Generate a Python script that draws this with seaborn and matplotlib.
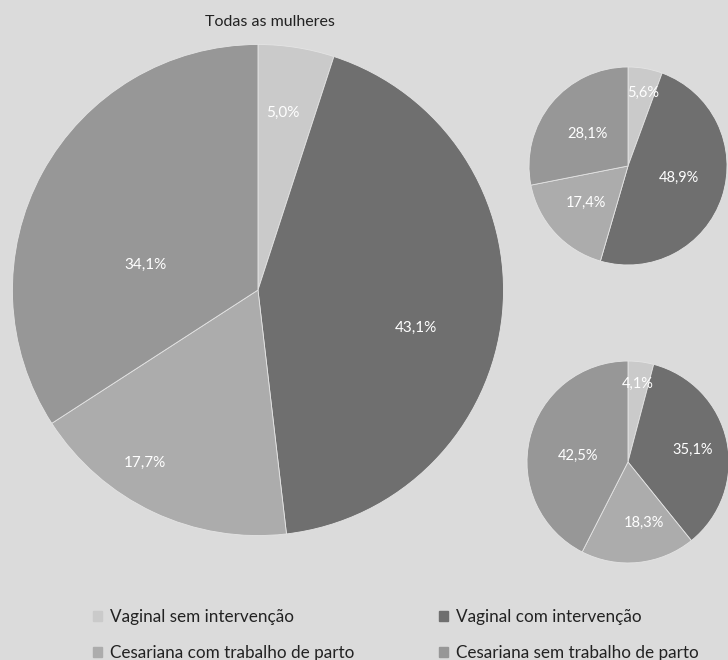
import numpy as np
import matplotlib
matplotlib.use('Agg')
import matplotlib.pyplot as plt
import matplotlib.patches as mpatches
import seaborn as sns

sns.set_theme(style='white')
plt.rcParams['font.family'] = ['Lato', 'DejaVu Sans']

categories = ['Vaginal sem intervenção', 'Vaginal com intervenção',
              'Cesariana com trabalho de parto', 'Cesariana sem trabalho de parto']
todas = [5.0, 43.1, 17.7, 34.1]
grupo_a = [5.6, 48.9, 17.4, 28.1]
grupo_b = [4.1, 35.1, 18.3, 42.5]
title_main = 'Todas as mulheres'

colors = ['#cacaca', '#6f6f6f', '#acacac', '#979797']
bg = '#dbdbdb'

# label placement (radius fraction, angle offset in degrees) for each pie
lab_main = [(0.73, 1), (0.66, -8), (0.84, -8), (0.47, 16)]
lab_a = [(0.75, -2), (0.53, 5), (0.57, -1), (0.52, 1)]
lab_b = [(0.78, 0), (0.65, -1), (0.62, 9), (0.50, 7)]


def fmt(v):
    return ('%.1f' % v).replace('.', ',') + '%'


def draw_pie(ax, vals, labpos, fs):
    wedges, _ = ax.pie(vals, colors=colors, startangle=90, counterclock=False,
                       radius=1, wedgeprops=dict(linewidth=0.6, edgecolor='#e4e4e4'))
    for w, v, (r, off) in zip(wedges, vals, labpos):
        ang = np.deg2rad((w.theta1 + w.theta2) / 2 + off)
        ax.text(r * np.cos(ang), r * np.sin(ang), fmt(v), color='white',
                ha='center', va='center', fontsize=fs)
    ax.set_xlim(-1.01, 1.01)
    ax.set_ylim(-1.01, 1.01)
    ax.set_aspect('equal')
    ax.axis('off')


fig = plt.figure(figsize=(7.28, 6.6), dpi=100, facecolor=bg)

ax1 = fig.add_axes([0.0137, 0.1848, 0.6813, 0.7515])
draw_pie(ax1, todas, lab_main, 11)
fig.text(270 / 728, 1 - 22 / 660, title_main, ha='center', va='center',
         fontsize=11.5, color='#222222')

ax2 = fig.add_axes([0.7253, 0.597, 0.2747, 0.303])
draw_pie(ax2, grupo_a, lab_a, 10.5)

ax3 = fig.add_axes([0.7225, 0.1455, 0.2802, 0.309])
draw_pie(ax3, grupo_b, lab_b, 10.5)

handles = [mpatches.Patch(color=c, label=l) for c, l in zip(colors, categories)]
order = [0, 2, 1, 3]
leg = fig.legend([handles[i] for i in order], [categories[i] for i in order],
                 ncol=2, loc='upper left', bbox_to_anchor=(93 / 728, 1 - 609 / 660),
                 frameon=False, fontsize=12.3, handlelength=0.55, handleheight=0.55,
                 handletextpad=0.45, columnspacing=4.95, labelspacing=1.19,
                 borderpad=0, borderaxespad=0, labelcolor='#222222')

fig.savefig('out.png', dpi=100, facecolor=bg)
